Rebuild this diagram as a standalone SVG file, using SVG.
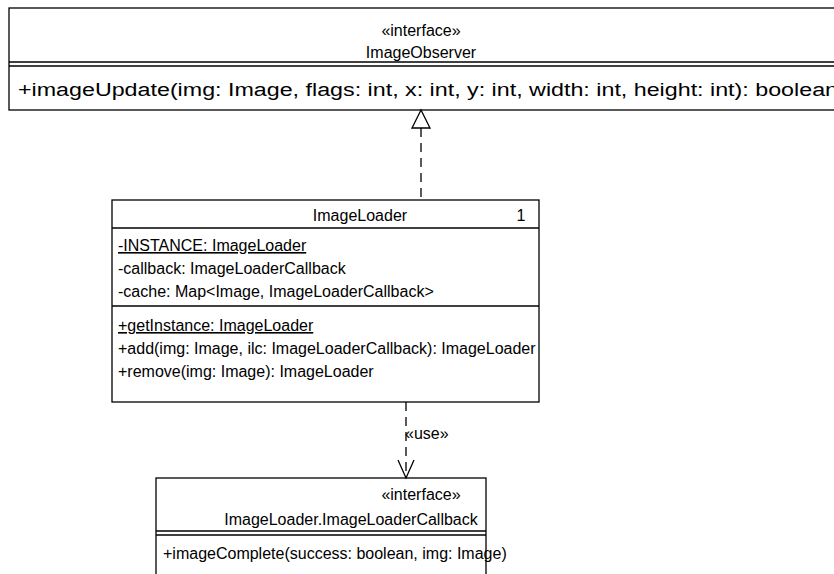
<svg xmlns="http://www.w3.org/2000/svg" width="834" height="574" viewBox="0 0 834 574">
<defs>
<style>
.box{fill:#fff;stroke:#000;stroke-width:1.3}
.ln{stroke:#000;stroke-width:1.3;fill:none}
.dash{stroke:#000;stroke-width:1.3;fill:none;stroke-dasharray:9,6}
text{font-family:"Liberation Sans",Arial,sans-serif;font-size:16px;fill:#000}
.c{text-anchor:middle}
.u{text-decoration:underline}
</style>
</defs>
<rect width="834" height="574" fill="#fff"/>
<g id="ImageObserver">
<rect class="box" x="9" y="8" width="840" height="102"/>
<line class="ln" x1="9" y1="62" x2="849" y2="62"/>
<line class="ln" x1="9" y1="66" x2="849" y2="66"/>
<text class="c" x="421" y="36">«interface»</text>
<text class="c" x="421" y="58">ImageObserver</text>
<text x="18" y="96" style="font-size:18px" textLength="820" lengthAdjust="spacingAndGlyphs">+imageUpdate(img: Image, flags: int, x: int, y: int, width: int, height: int): boolean</text>
</g>
<g id="ImageLoader">
<rect class="box" x="112" y="200" width="427" height="202"/>
<line class="ln" x1="112" y1="228" x2="539" y2="228"/>
<line class="ln" x1="112" y1="306" x2="539" y2="306"/>
<text class="c" x="360" y="221">ImageLoader</text>
<text class="c" x="521" y="221">1</text>
<text class="u" x="118" y="251">-INSTANCE: ImageLoader</text>
<text x="118" y="274">-callback: ImageLoaderCallback</text>
<text x="118" y="297">-cache: Map&lt;Image, ImageLoaderCallback&gt;</text>
<text class="u" x="118" y="331">+getInstance: ImageLoader</text>
<text x="118" y="354">+add(img: Image, ilc: ImageLoaderCallback): ImageLoader</text>
<text x="118" y="377">+remove(img: Image): ImageLoader</text>
</g>
<g id="ImageLoaderCallback">
<rect class="box" x="156" y="478" width="330" height="110"/>
<line class="ln" x1="156" y1="531" x2="486" y2="531"/>
<line class="ln" x1="156" y1="535" x2="486" y2="535"/>
<text class="c" x="421" y="500">«interface»</text>
<text class="c" x="351" y="525">ImageLoader.ImageLoaderCallback</text>
<text x="163" y="559">+imageComplete(success: boolean, img: Image)</text>
</g>
<g id="connectors">
<line class="dash" x1="421" y1="128" x2="421" y2="200"/>
<polygon points="421,110 412,128 430,128" fill="#fff" stroke="#000" stroke-width="1.3"/>
<line class="dash" x1="406" y1="402" x2="406" y2="478"/>
<polyline class="ln" points="398,460 406,478 414,460"/>
<text x="405" y="439">«use»</text>
</g>
</svg>
